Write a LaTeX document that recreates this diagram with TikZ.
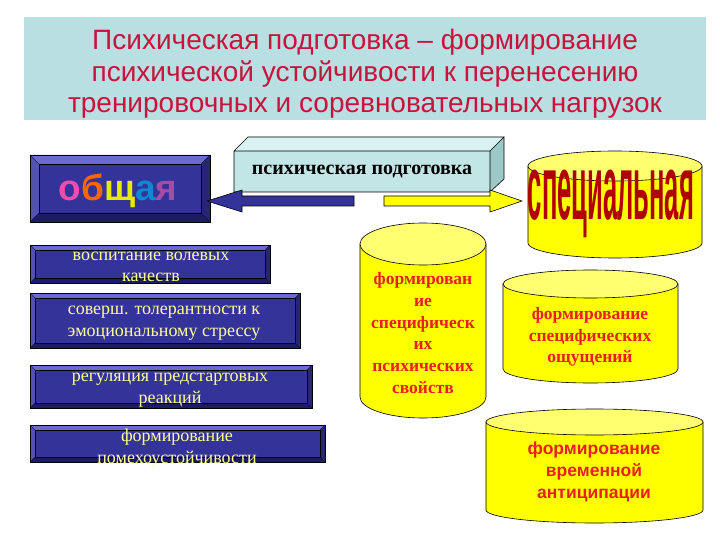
\documentclass[tikz,border=0pt]{standalone}
\usepackage{fontspec}
\setmainfont{Liberation Serif}
\setsansfont{Liberation Sans}
\definecolor{band}{HTML}{B9DFE3}
\definecolor{titlered}{HTML}{C8143C}
\definecolor{navy}{HTML}{333399}
\definecolor{navylight}{HTML}{6B6BCB}
\definecolor{navyleft}{HTML}{5252B2}
\definecolor{navydark}{HTML}{1C1C66}
\definecolor{navyright}{HTML}{262675}
\definecolor{boxcyan}{HTML}{C2E6E6}
\definecolor{boxcyantop}{HTML}{D8F2F2}
\definecolor{boxcyanside}{HTML}{9CC8C8}
\definecolor{cylyellow}{HTML}{FFFF00}
\definecolor{cyltop}{HTML}{FFFF70}
\definecolor{txtred}{HTML}{E8201E}
\definecolor{txtyellow}{HTML}{FFFF99}
\definecolor{specred}{HTML}{B00000}
\newcommand\mybevel[5]{%
 \fill[navy] (#1,#2) rectangle (#3,#4);
 \fill[navylight] (#1,#2) -- (#3,#2) -- ({#3-#5},{#2+#5}) -- ({#1+#5},{#2+#5}) -- cycle;
 \fill[navyleft] (#1,#2) -- ({#1+#5},{#2+#5}) -- ({#1+#5},{#4-#5}) -- (#1,#4) -- cycle;
 \fill[navydark] (#1,#4) -- ({#1+#5},{#4-#5}) -- ({#3-#5},{#4-#5}) -- (#3,#4) -- cycle;
 \fill[navyright] (#3,#2) -- (#3,#4) -- ({#3-#5},{#4-#5}) -- ({#3-#5},{#2+#5}) -- cycle;
 \draw[black, line width=0.6pt] (#1,#2) rectangle (#3,#4);
 \draw[black, line width=0.4pt] ({#1+#5},{#2+#5}) rectangle ({#3-#5},{#4-#5});
 \draw[black, line width=0.3pt] (#1,#2) -- ({#1+#5},{#2+#5}) (#3,#2) -- ({#3-#5},{#2+#5})
   (#1,#4) -- ({#1+#5},{#4-#5}) (#3,#4) -- ({#3-#5},{#4-#5});
}
\newcommand\mycyl[5]{%
 \draw[fill=cylyellow, line width=0.6pt] (#1,#3) -- (#1,#4)
   arc[start angle=180, end angle=360, x radius={(#2-#1)/2*1pt}, y radius=#5pt]
   -- (#2,#3) -- cycle;
 \draw[fill=cyltop, line width=0.6pt] ({(#1+#2)/2},#3) ellipse [x radius={(#2-#1)/2*1pt}, y radius=#5pt];
}
\tikzset{
  lefttxt/.style={align=center, text=txtyellow, inner sep=0pt,
    font=\fontsize{18}{21.5}\selectfont},
  cyltxt/.style={align=center, text=txtred, inner sep=0pt,
    font=\bfseries\fontsize{17.5}{21.8}\selectfont},
}
\begin{document}
\begin{tikzpicture}[x=1pt, y=-1pt]
\useasboundingbox (0,0) rectangle (720,540);
\fill[white] (0,0) rectangle (720,540);
% title band
\fill[band] (24,17) rectangle (706,120);
\node[align=center, text=titlered, inner sep=0pt,
  font=\sffamily\fontsize{28}{31.5}\selectfont] (title) at (365,74)
  {Психическая подготовка – формирование\\психической устойчивости к перенесению\\тренировочных и соревновательных нагрузок};

% general box
\mybevel{30}{155}{210}{222}{9}
\node[inner sep=0pt, font=\sffamily\bfseries\fontsize{33}{33}\selectfont] (obsh) at (118,191)
  {\scalebox{1.12}[1.1]{\textcolor{magenta!70!white}{о}\textcolor{orange!80!red}{б}\textcolor{yellow!90!green}{щ}\textcolor{cyan!70!blue}{а}\textcolor{violet!70!white}{я}}};

% central 3D box
\fill[boxcyan] (234,151) rectangle (490,192);
\fill[boxcyantop] (234,151) -- (248,137) -- (504,137) -- (490,151) -- cycle;
\fill[boxcyanside] (490,151) -- (504,137) -- (504,179) -- (490,192) -- cycle;
\draw[line width=0.6pt] (234,151) rectangle (490,192)
  (234,151) -- (248,137) -- (504,137) -- (490,151)
  (504,137) -- (504,179) -- (490,192);
\node[inner sep=0pt, font=\bfseries\fontsize{20}{22}\selectfont] (psy) at (362,172) {психическая подготовка};

% arrows
\coordinate (blueTip) at (207,201);
\coordinate (yelTip) at (522,201);
\draw[fill=navy, line width=0.6pt] (354,196) -- (242,196) -- (242,190) -- (blueTip) -- (242,212) -- (242,206) -- (354,206) -- cycle;
\draw[fill=cylyellow, line width=0.6pt] (384,196) -- (490,196) -- (490,190) -- (yelTip) -- (490,212) -- (490,206) -- (384,206) -- cycle;

% special cylinder
\mycyl{528}{702}{166}{243}{15}
\node[inner sep=0pt, text=specred, font=\sffamily\bfseries\fontsize{40}{40}\selectfont] (spec) at (611,204)
  {\scalebox{0.64}[2.3]{специальная}};

% left boxes
\mybevel{30}{245}{270}{283}{5}
\node[lefttxt] (b1) at (151,267) {воспитание волевых\\качеств};
\mybevel{30}{293}{300}{348}{5}
\node[lefttxt] (b2) at (164,323) {соверш. толерантности к\\эмоциональному стрессу};
\mybevel{30}{365}{312}{408}{5}
\node[lefttxt] (b3) at (170,390) {регуляция предстартовых\\реакций};
\mybevel{30}{425}{325}{462}{5}
\node[lefttxt] (b4) at (177,448) {формирование\\помехоустойчивости};

% cylinders right
\mycyl{360}{486}{244}{397}{21}
\node[cyltxt] (c1) at (423,333) {формирован\\ие\\специфическ\\их\\психических\\свойств};
\mycyl{503}{678}{284}{369}{14}
\node[cyltxt] (c2) at (590,337) {формирование\\специфических\\ощущений};
\mycyl{486}{703}{422}{510}{13}
\node[cyltxt, font=\sffamily\bfseries\fontsize{17.5}{22}\selectfont] (c3) at (594,472) {формирование\\временной\\антиципации};
\end{tikzpicture}
\end{document}
